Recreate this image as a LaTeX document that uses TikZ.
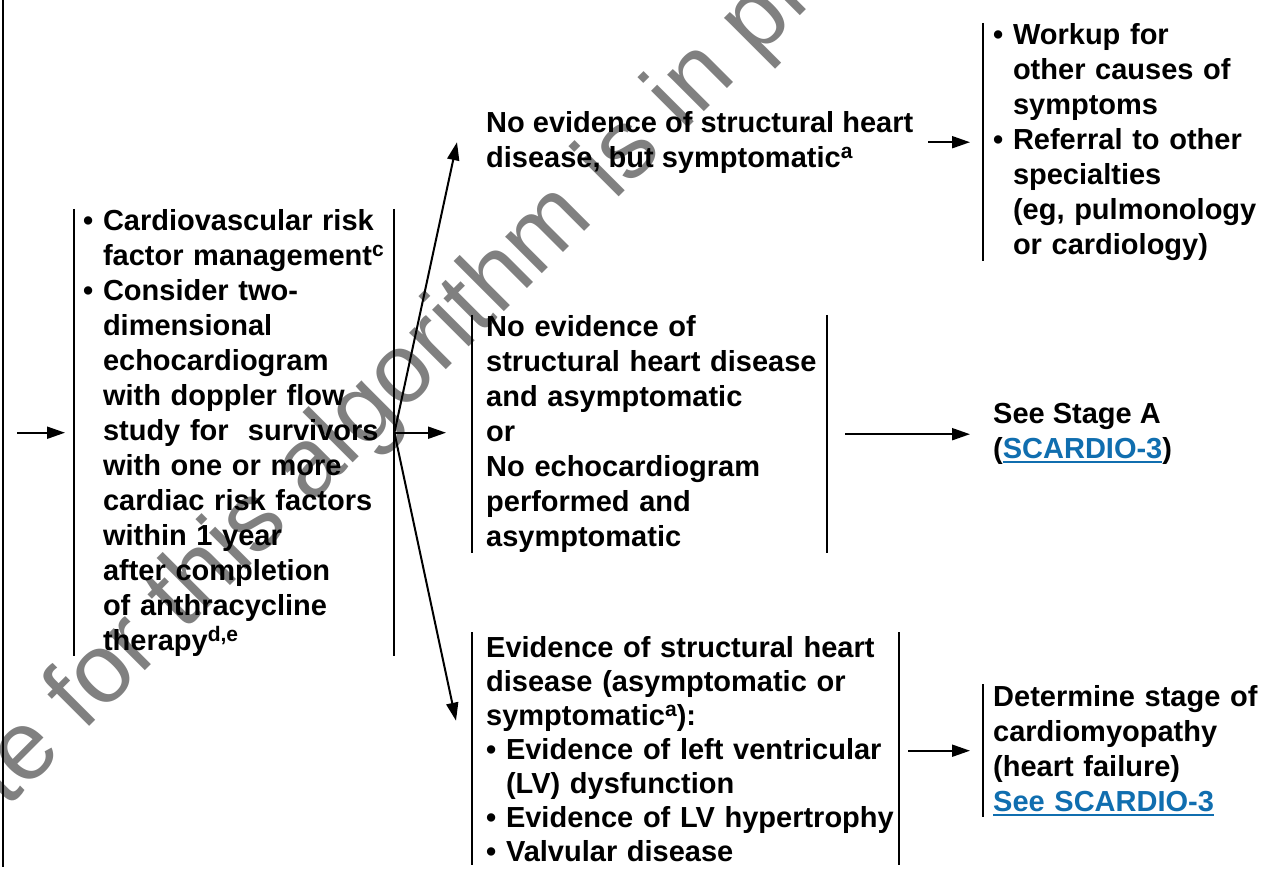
\documentclass[tikz,border=0pt]{standalone}
\usepackage{fontspec}
\setmainfont{Liberation Sans}
\usetikzlibrary{arrows.meta}
\definecolor{lnkblue}{RGB}{16,110,175}
\newcommand\supr[1]{\raisebox{9pt}{\fontsize{21}{21}\selectfont #1}}
\newcommand\ind{\hphantom{• }}
\newcommand\lnk[1]{\leavevmode{\color{lnkblue}\setbox0\hbox{#1}\rlap{\rule[-4.5pt]{\wd0}{2pt}}\box0}}
\newcommand\rskip{\rightskip=0pt plus 1fil minus 30pt\relax}

\begin{document}
\begin{tikzpicture}[x=1pt,y=-1pt,
  every node/.style={font=\fontsize{29}{35}\selectfont\bfseries},
  box/.style={anchor=north west,inner ysep=0pt,align=left},
  txt/.style={anchor=north west,inner sep=0pt,align=left},
  bar/.style={line width=2pt},
  arr/.style={line width=2pt,-{Triangle[length=18pt,width=12pt]}},
  wm/.style={anchor=base west,rotate=45,inner sep=0pt,text=black!50,
    font=\fontsize{98}{98}\selectfont\mdseries}]
  \useasboundingbox (0,0) rectangle (1274,874);
  \clip (0,0) rectangle (1274,874);
  % watermark
  \node[wm] (wmk) at (6,810) {te for this algorithm is in pr};
  % boxes
  \node[box,inner xsep=9pt,text width=302pt,minimum height=443pt] (b1) at (74,209)
    {\rskip• Cardiovascular risk\\\ind factor management\supr{c}\\• Consider two-\\\ind dimensional\\\ind echocardiogram\\\ind with doppler flow\\\ind study for~ survivors\\\ind with one or more\\\ind cardiac risk factors\\\ind within 1 year\\\ind after completion\\\ind of anthracycline\\\ind therapy\supr{d,e}};
  \node[txt] (t1) at (486,111) {No evidence of structural heart\\disease, but symptomatic\supr{a}};
  \node[box,inner xsep=14pt,text width=327pt,minimum height=238pt] (b2) at (472,315)
    {\rskip No evidence of\\structural heart disease\\and asymptomatic\\or\\No echocardiogram\\performed and\\asymptomatic};
  \node[box,inner xsep=14pt,text width=399pt,minimum height=233pt,
    font=\fontsize{29}{34}\selectfont\bfseries] (b3) at (472,632)
    {\rskip Evidence of structural heart\\disease (asymptomatic or\\symptomatic\supr{a}):\\• Evidence of left ventricular\\\ind (LV) dysfunction\\• Evidence of LV hypertrophy\\• Valvular disease};
  \node[box,inner xsep=10pt,text width=270pt,minimum height=237pt] (b4) at (983,23)
    {\rskip• Workup for\\\ind other causes of\\\ind symptoms\\• Referral to other\\\ind specialties\\\ind (eg, pulmonology\\\ind or cardiology)};
  \node[txt] (b5) at (993,403) {See Stage A\\(\lnk{SCARDIO-3})};
  \node[box,inner xsep=10pt,text width=265pt,minimum height=133pt] (b6) at (983,684)
    {\rskip Determine stage of\\cardiomyopathy\\(heart failure)\\\lnk{See SCARDIO-3}};
  % borders
  \foreach \n in {b1,b2,b3}
    \draw[bar] (\n.north west) -- (\n.south west) (\n.north east) -- (\n.south east);
  \foreach \n in {b4,b6}
    \draw[bar] (\n.north west) -- (\n.south west);
  \coordinate (lt) at (3,0);
  \coordinate (lb) at (3,867);
  \coordinate (lm) at (b1.west -| lt);
  \draw[bar,line width=2.5pt] (lt) -- (lb);
  % arrows
  \draw[arr,shorten <=14pt,shorten >=9pt] (lm) -- (b1.west);
  \draw[arr] (b1.east) -- ([xshift=-29pt]t1.west);
  \draw[arr,shorten >=26pt] (b1.east) -- (b1.east -| b2.west);
  \draw[arr] (b1.east) -- ([xshift=-16pt,yshift=28pt]b3.west);
  \draw[arr,shorten <=15pt,shorten >=13pt] (t1.east) -- (t1.east -| b4.west);
  \draw[arr,shorten <=18pt,shorten >=23pt] (b2.east) -- (b2.east -| b5.west);
  \draw[arr,shorten <=9pt,shorten >=13pt] (b3.east |- b6.west) -- (b6.west);
\end{tikzpicture}
\end{document}
